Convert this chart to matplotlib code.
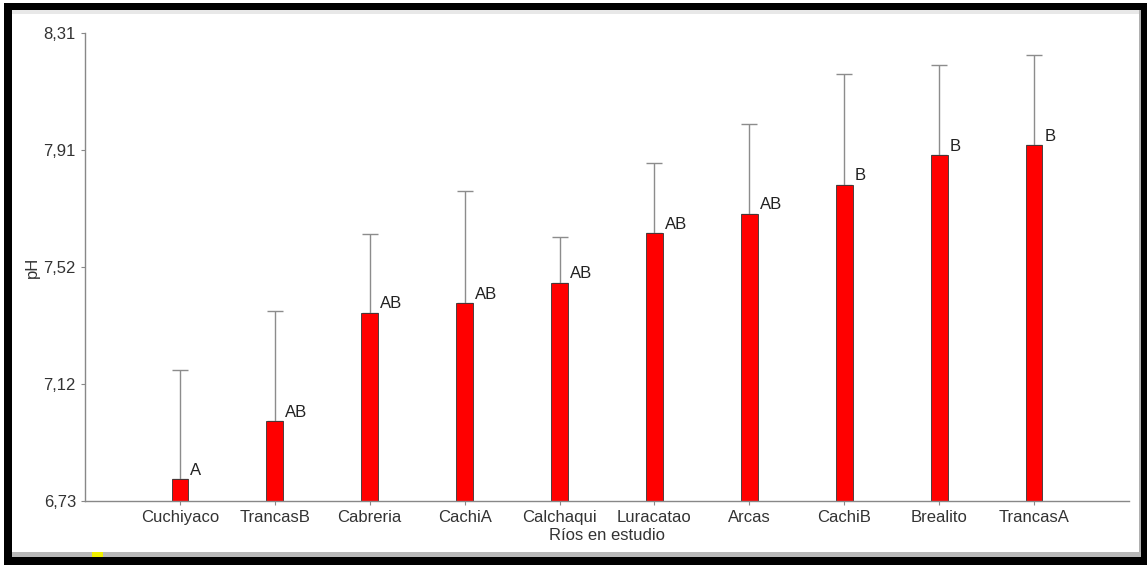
import matplotlib
matplotlib.use('Agg')
from matplotlib import pyplot as plt
from matplotlib.patches import Rectangle
import numpy as np

# pH medio por río, con su desvío (sólo barra superior)
rios = ['Cuchiyaco', 'TrancasB', 'Cabreria', 'CachiA', 'Calchaqui',
        'Luracatao', 'Arcas', 'CachiB', 'Brealito', 'TrancasA']
ph_medio = [6.803, 7.000, 7.366, 7.398, 7.467, 7.634, 7.699, 7.797, 7.898, 7.931]
ph_sup = [7.172, 7.372, 7.631, 7.777, 7.620, 7.870, 8.002, 8.172, 8.202, 8.236]
letras = ['A', 'AB', 'AB', 'AB', 'AB', 'AB', 'AB', 'B', 'B', 'B']

y_min, y_max = 6.73, 8.31
y_ticks = np.linspace(y_min, y_max, 5)
y_labels = ['6,73', '7,12', '7,52', '7,91', '8,31']

plt.rcParams['font.family'] = ['Liberation Sans', 'DejaVu Sans']

W, H = 1147, 565
fig = plt.figure(figsize=(W / 100, H / 100), dpi=100)
fig.patch.set_facecolor('white')

# marco negro alrededor
def px_rect(x0, y0, x1, y1, color):
    fig.add_artist(Rectangle((x0 / W, 1 - y1 / H), (x1 - x0) / W, (y1 - y0) / H,
                             transform=fig.transFigure, facecolor=color,
                             edgecolor='none', zorder=-5))

px_rect(4, 3, 1147, 10, 'black')
px_rect(4, 3, 12, 565, 'black')
px_rect(1141, 3, 1147, 565, 'black')
px_rect(4, 557, 1147, 565, 'black')
px_rect(12, 10, 1141, 14, '#e8e8e8')
px_rect(1139, 10, 1141, 557, '#b0b0b0')
px_rect(12, 552, 1141, 557, '#b8b8b8')
px_rect(92, 552, 103, 557, '#f0f000')

ax = fig.add_axes([85 / W, 1 - 501 / H, (1129 - 85) / W, (501 - 33) / H])
ax.set_facecolor('none')

x = np.arange(len(rios))
medio = np.array(ph_medio)
sup = np.array(ph_sup)
err = np.vstack([np.zeros_like(medio), sup - medio])

ax.errorbar(x, medio, yerr=err, fmt='none', ecolor='#8c8c8c', elinewidth=1.0,
            capsize=6, capthick=1.0, zorder=1)
ax.bar(x, medio - y_min, bottom=y_min, width=0.176, color='#ff0000',
       edgecolor='#333333', linewidth=0.6, zorder=2)

for xi, m, l in zip(x, medio, letras):
    ax.text(xi + 0.11, m + 0.005, l, ha='left', va='bottom', fontsize=12,
            color='#222222')

ax.set_xlim(-1, 10)
ax.set_ylim(y_min, y_max)
ax.set_yticks(y_ticks)
ax.set_yticklabels(y_labels)
ax.set_xticks(x)
ax.set_xticklabels(rios)

for s in ['top', 'right']:
    ax.spines[s].set_visible(False)
for s in ['left', 'bottom']:
    ax.spines[s].set_color('#888888')
    ax.spines[s].set_linewidth(1.0)
ax.tick_params(axis='both', colors='#888888', labelcolor='#333333',
               labelsize=12, length=3, width=0.8)

ax.set_xlabel('Ríos en estudio', fontsize=12, color='#333333', labelpad=2)
ax.set_ylabel('pH', fontsize=12, color='#333333', labelpad=3)

fig.savefig('out.png', dpi=100)
